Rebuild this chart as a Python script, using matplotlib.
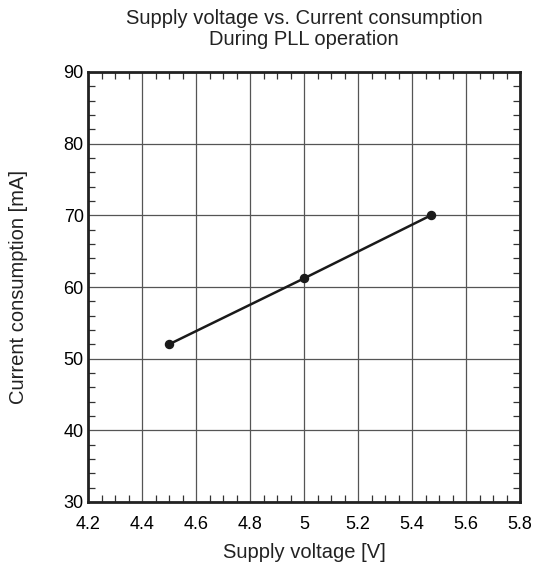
import matplotlib
matplotlib.use('Agg')
import matplotlib.pyplot as plt
from matplotlib.ticker import MultipleLocator

# values
voltage = [4.5, 5.0, 5.47]
current = [52.0, 61.2, 70.0]

x_ticks = [4.2, 4.4, 4.6, 4.8, 5.0, 5.2, 5.4, 5.6, 5.8]
x_tick_labels = ['4.2', '4.4', '4.6', '4.8', '5', '5.2', '5.4', '5.6', '5.8']
y_ticks = [30, 40, 50, 60, 70, 80, 90]

plt.rcParams['font.family'] = ['Liberation Sans', 'DejaVu Sans']

fig = plt.figure(figsize=(5.36, 5.67), dpi=100)
ax = fig.add_axes([88 / 536, 1 - 502 / 567, 432 / 536, 430 / 567])

ax.plot(voltage, current, color='#1a1a1a', linewidth=1.8, marker='o', markersize=5.8, zorder=3)

ax.set_xlim(4.2, 5.8)
ax.set_ylim(30, 90)
ax.set_xticks(x_ticks)
ax.set_xticklabels(x_tick_labels)
ax.set_yticks(y_ticks)
ax.xaxis.set_minor_locator(MultipleLocator(0.05))
ax.yaxis.set_minor_locator(MultipleLocator(2))

ax.grid(True, which='major', color='#555555', linewidth=0.9)
ax.tick_params(which='both', direction='in', top=True, right=True, labelsize=13, color='#333333')
ax.tick_params(axis='x', which='major', length=0, pad=10)
ax.tick_params(axis='y', which='major', length=0, pad=3)
ax.tick_params(which='minor', length=5, width=0.9)
for side in ax.spines.values():
    side.set_linewidth(2)
    side.set_color('#222222')

ax.set_xlabel('Supply voltage [V]', fontsize=14.5, color='#222222')
ax.xaxis.set_label_coords(0.5, -(543 - 502) / 430, transform=ax.transAxes)
ax.set_ylabel('Current consumption [mA]', fontsize=14.5, color='#222222')
ax.yaxis.set_label_coords(-(88 - 28) / 432, 0.5, transform=ax.transAxes)
fig.text(304 / 536, 1 - 29 / 567, 'Supply voltage vs. Current consumption\nDuring PLL operation',
         ha='center', va='center', fontsize=14.5, color='#222222', linespacing=1.1)

fig.savefig('out.png', dpi=100)
